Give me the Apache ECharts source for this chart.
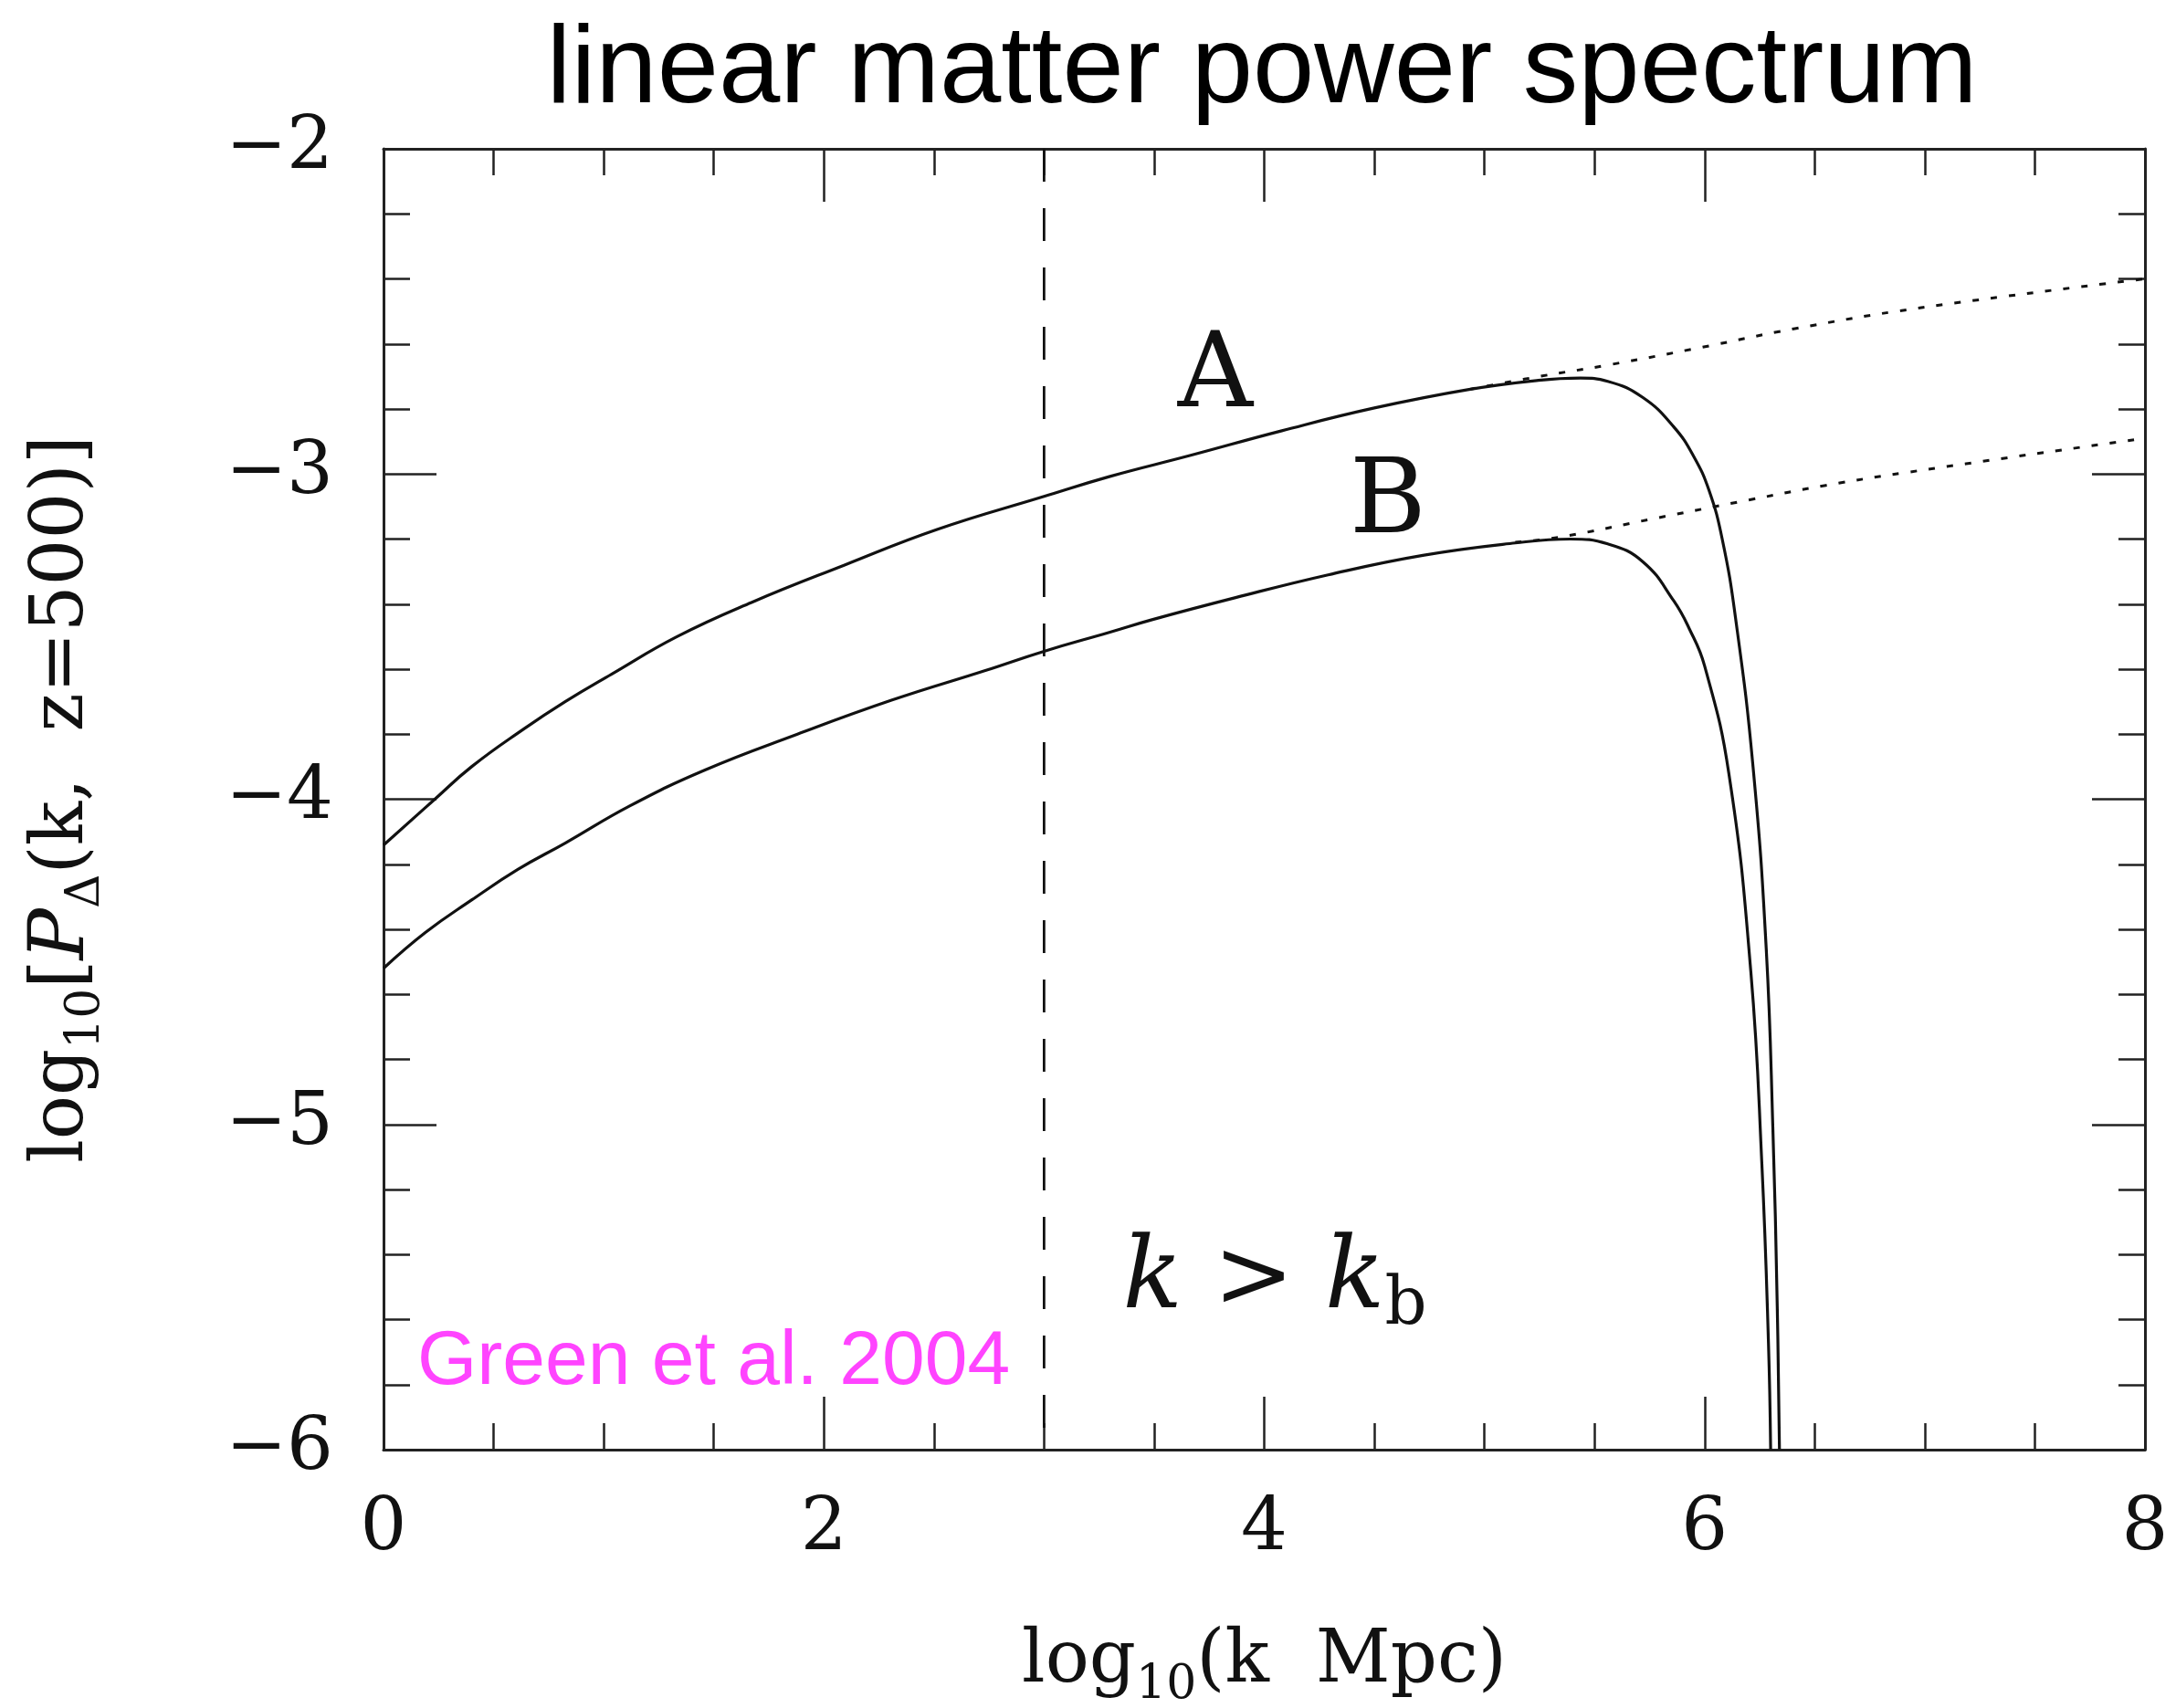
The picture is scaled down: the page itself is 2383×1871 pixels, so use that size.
<!DOCTYPE html>
<html><head><meta charset="utf-8">
<script src="https://cdn.jsdelivr.net/npm/echarts@6/dist/echarts.min.js"></script>
<style>html,body{margin:0;padding:0;background:#fff}#c{width:2383px;height:1871px}</style>
</head><body><div id="c"></div><script>
// ---- data ----
const xTickValues = [0, 2, 4, 6, 8];
const yTickValues = [-6, -5, -4, -3, -2];

const curveAx = [0, 0.233, 0.40, 0.635, 0.825, 1.037, 1.333, 1.671, 2.094, 2.517, 3.0, 3.296, 3.658, 4.08, 4.50, 4.93, 5.245, 5.436, 5.56, 5.72, 5.86, 5.95, 6.02, 6.08, 6.14, 6.22, 6.28, 6.31, 6.33, 6.34];
const curveAy = [-4.141, -4.0, -3.90, -3.785, -3.70, -3.615, -3.50, -3.395, -3.28, -3.17, -3.069, -3.008, -2.944, -2.867, -2.797, -2.74, -2.712, -2.705, -2.715, -2.765, -2.855, -2.945, -3.05, -3.20, -3.44, -3.90, -4.46, -5.01, -5.56, -6.0];

const curveBx = [0, 0.19, 0.40, 0.61, 0.825, 1.12, 1.46, 1.88, 2.31, 2.73, 3.0, 3.296, 3.49, 3.87, 4.29, 4.72, 5.14, 5.39, 5.56, 5.72, 5.86, 5.93, 6.0, 6.11, 6.21, 6.26, 6.29, 6.30];
const curveBy = [-4.52, -4.41, -4.31, -4.216, -4.135, -4.02, -3.91, -3.80, -3.695, -3.605, -3.545, -3.487, -3.448, -3.38, -3.31, -3.25, -3.212, -3.20, -3.215, -3.27, -3.39, -3.475, -3.59, -3.92, -4.53, -5.12, -5.67, -6.0];

const dotAx = [4.93, 5.25, 5.56, 5.99, 6.41, 6.97, 8.0];
const dotAy = [-2.74, -2.70, -2.665, -2.61, -2.553, -2.49, -2.40];
const dotBx = [5.14, 5.35, 5.77, 6.20, 6.55, 6.97, 8.0];
const dotBy = [-3.21, -3.193, -3.137, -3.08, -3.035, -2.99, -2.89];

const vLineX = [3, 3];
const vLineY = [-2, -6];

const titleText = 'linear matter power spectrum';
const creditText = 'Green et al. 2004';

// ---- build ----
const zip = (xs, ys) => xs.map((x, i) => [x, ys[i]]);
const INK = '#111';
const SERIF = '"DejaVu Serif", "Liberation Serif", serif';
const SANS = '"Liberation Sans", Arial, sans-serif';
const minus = v => String(v).replace('-', '\u2212');

const tickCommon = {
  axisLine: { show: true, onZero: false, lineStyle: { color: '#222', width: 3 } },
  axisTick: { show: true, inside: true, length: 58, lineStyle: { color: '#222', width: 2.5 } },
  splitLine: { show: false },
};

function xAxisCfg(pos, showLabel) {
  return Object.assign({
    type: 'value', position: pos, min: 0, max: 8, interval: 2,
    minorTick: { show: true, splitNumber: 4, length: 29, lineStyle: { color: '#222', width: 2.5 } },
    axisLabel: { show: showLabel, fontFamily: SERIF, fontSize: 80, color: INK, margin: 48,
      formatter: v => xTickValues.includes(v) ? minus(v) : '' },
  }, tickCommon);
}
function yAxisCfg(pos, showLabel) {
  return Object.assign({
    type: 'value', position: pos, min: -6, max: -2, interval: 1,
    minorTick: { show: true, splitNumber: 5, length: 29, lineStyle: { color: '#222', width: 2.5 } },
    axisLabel: { show: showLabel, fontFamily: SERIF, fontSize: 80, color: INK, margin: 55,
      formatter: v => yTickValues.includes(v) ? minus(v) : '' },
  }, tickCommon);
}

const xb = xAxisCfg('bottom', true);
xb.name = '{n|log}{s|10}{n|(k  Mpc)}';
xb.nameLocation = 'middle';
xb.nameGap = 173;
xb.nameMoveOverlap = false;
xb.nameTextStyle = {
  rich: {
    n: { fontFamily: SERIF, fontSize: 80, color: INK, lineHeight: 120 },
    s: { fontFamily: SERIF, fontSize: 52, color: INK, padding: [50, 0, 0, 0] }
  }
};
const yl = yAxisCfg('left', true);
yl.name = '{n|log}{s|10}{n|[}{i|P}{s|\u0394}{n|(k,  z=500)]}';
yl.nameLocation = 'middle';
yl.nameGap = 291;
yl.nameMoveOverlap = false;
yl.nameTextStyle = {
  rich: {
    n: { fontFamily: SERIF, fontSize: 80, color: INK, lineHeight: 120 },
    i: { fontFamily: SERIF, fontStyle: 'italic', fontSize: 84, color: INK, lineHeight: 120 },
    s: { fontFamily: SERIF, fontSize: 52, color: INK, padding: [50, 0, 0, 0] }
  }
};

const solid = (d) => ({ type: 'line', data: d, showSymbol: false, symbol: 'none', smooth: 0.45,
  lineStyle: { color: INK, width: 3.2 }, xAxisIndex: 0, yAxisIndex: 0, silent: true, z: 3 });
const dotted = (d) => ({ type: 'line', data: d, showSymbol: false, symbol: 'none', smooth: 0.45,
  lineStyle: { color: INK, width: 3, type: [7, 13] }, xAxisIndex: 0, yAxisIndex: 0, silent: true, z: 2 });

const chart = echarts.init(document.getElementById('c'), null, { renderer: 'canvas' });
chart.setOption({
  animation: false,
  backgroundColor: '#fff',
  grid: { left: 420, right: 34, top: 163, bottom: 283, containLabel: false, outerBoundsMode: 'none' },
  xAxis: [xb, xAxisCfg('top', false)],
  yAxis: [yl, yAxisCfg('right', false)],
  series: [
    solid(zip(curveAx, curveAy)),
    solid(zip(curveBx, curveBy)),
    dotted(zip(dotAx, dotAy)),
    dotted(zip(dotBx, dotBy)),
    { type: 'line', data: zip(vLineX, vLineY), showSymbol: false, symbol: 'none',
      lineStyle: { color: INK, width: 2.8, type: [36, 29] }, silent: true, z: 2 }
  ],
  graphic: [
    { type: 'text', x: 1382, y: 79, style: { text: titleText, font: '121px ' + SANS, fill: '#000',
      textAlign: 'center', align: 'center', textVerticalAlign: 'middle', verticalAlign: 'middle' } },
    { type: 'text', x: 1331, y: 415, style: { text: 'A', font: '114px ' + SERIF, fill: INK,
      textAlign: 'center', align: 'center', textVerticalAlign: 'middle', verticalAlign: 'middle' } },
    { type: 'text', x: 1520, y: 553, style: { text: 'B', font: '114px ' + SERIF, fill: INK,
      textAlign: 'center', align: 'center', textVerticalAlign: 'middle', verticalAlign: 'middle' } },
    { type: 'text', x: 1396, y: 1404, style: { text: '{k|k}{o|>}{k|k}{s|b}',
      textAlign: 'center', align: 'center', textVerticalAlign: 'middle', verticalAlign: 'middle',
      rich: {
        k: { fontFamily: SERIF, fontStyle: 'italic', fontSize: 108, fill: INK, color: INK },
        o: { fontFamily: SERIF, fontSize: 105, fill: INK, color: INK, padding: [0, 34, 0, 34] },
        s: { fontFamily: SERIF, fontSize: 72, fill: INK, color: INK, padding: [54, 0, 0, 0] }
      } } },
    { type: 'text', x: 457, y: 1493, style: { text: creditText, font: '84px ' + SANS, fill: '#ff44ff',
      textAlign: 'left', align: 'left', textVerticalAlign: 'middle', verticalAlign: 'middle' } }
  ]
});
</script></body></html>
